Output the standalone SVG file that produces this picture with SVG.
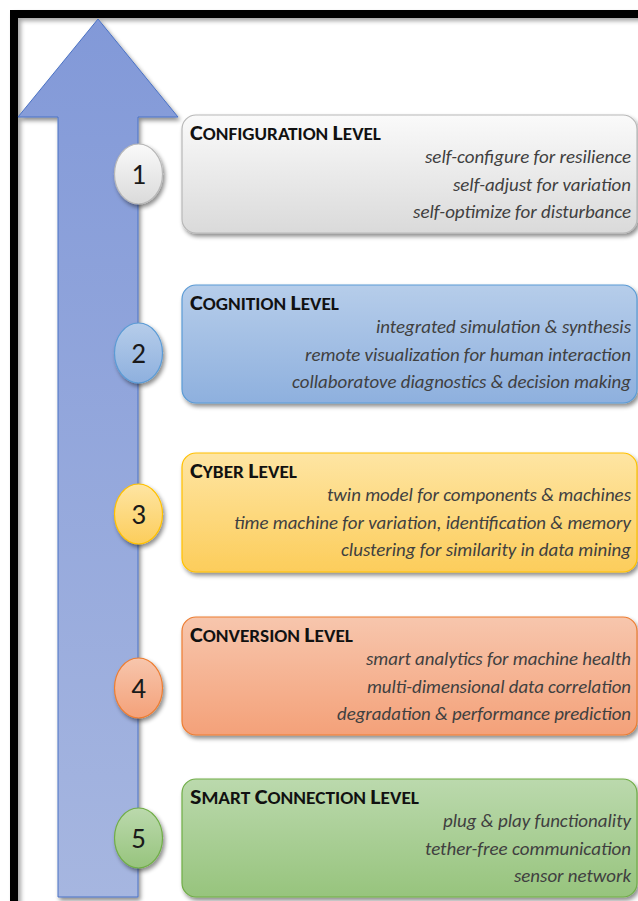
<svg xmlns="http://www.w3.org/2000/svg" width="638" height="901" viewBox="0 0 638 901">
<defs>
<style>
.title{font-family:Carlito,"Open Sans","Liberation Sans",sans-serif;font-weight:bold;font-size:17.5px;fill:#111}
.big{font-size:22px}
.item{font-family:Carlito,"Open Sans","Liberation Sans",sans-serif;font-style:italic;font-size:18px;fill:#404040;text-anchor:end}
.num{font-family:Carlito,"Open Sans","Liberation Sans",sans-serif;font-size:29px;fill:#1a1a1a;text-anchor:middle}
.box{filter:url(#sh);stroke-width:1.2}
</style>
<filter id="sh" x="-10%" y="-10%" width="125%" height="130%">
<feDropShadow dx="2" dy="3" stdDeviation="2.2" flood-color="#000" flood-opacity="0.45"/>
</filter>
<filter id="fsh" x="-50%" y="-5%" width="300%" height="110%">
<feDropShadow dx="3" dy="3" stdDeviation="2" flood-color="#000" flood-opacity="0.35"/>
</filter>
<linearGradient id="gArrow" x1="0" y1="0" x2="0" y2="1"><stop offset="0" stop-color="#8299d8"/><stop offset="1" stop-color="#a6b6e0"/></linearGradient>
<linearGradient id="g1" x1="0" y1="0" x2="0" y2="1"><stop offset="0" stop-color="#fafafa"/><stop offset="1" stop-color="#dadada"/></linearGradient>
<linearGradient id="g2" x1="0" y1="0" x2="0" y2="1"><stop offset="0" stop-color="#b6cdea"/><stop offset="1" stop-color="#8eb0de"/></linearGradient>
<linearGradient id="g3" x1="0" y1="0" x2="0" y2="1"><stop offset="0" stop-color="#fee5a3"/><stop offset="1" stop-color="#fccd5b"/></linearGradient>
<linearGradient id="g4" x1="0" y1="0" x2="0" y2="1"><stop offset="0" stop-color="#f7c6ad"/><stop offset="1" stop-color="#f4a179"/></linearGradient>
<linearGradient id="g5" x1="0" y1="0" x2="0" y2="1"><stop offset="0" stop-color="#bbd9ad"/><stop offset="1" stop-color="#97c47d"/></linearGradient>
</defs>
<rect width="638" height="901" fill="#ffffff"/>
<g id="frame" filter="url(#fsh)">
<rect x="10" y="10" width="640" height="8" fill="#000"/>
<rect x="10" y="10" width="8" height="900" fill="#000"/>
</g>
<g id="arrow">
<path d="M98 19 L178 117 L138 117 L138 897 L58 897 L58 117 L18 117 Z" fill="url(#gArrow)" stroke="#4a72c4" stroke-width="1" filter="url(#sh)"/>
</g>
<g id="connectors"></g>
<g id="level1">
<rect class="box" x="182" y="115" width="455" height="118" rx="14" fill="url(#g1)" stroke="#b8b8b8"/>
<text class="title" x="190" y="140" textLength="191" lengthAdjust="spacingAndGlyphs"><tspan class="big">C</tspan>ONFIGURATION <tspan class="big">L</tspan>EVEL</text>
<text class="item" x="631" y="163" textLength="206" lengthAdjust="spacingAndGlyphs">self-configure for resilience</text>
<text class="item" x="631" y="191" textLength="178" lengthAdjust="spacingAndGlyphs">self-adjust for variation</text>
<text class="item" x="631" y="218" textLength="218" lengthAdjust="spacingAndGlyphs">self-optimize for disturbance</text>
<ellipse class="box" cx="138.5" cy="174" rx="24" ry="30" fill="url(#g1)" stroke="#b8b8b8"/>
<text class="num" x="138.5" y="184">1</text>
</g>
<g id="level2">
<rect class="box" x="182" y="285" width="455" height="118" rx="14" fill="url(#g2)" stroke="#5b9bd5"/>
<text class="title" x="190" y="310" textLength="149" lengthAdjust="spacingAndGlyphs"><tspan class="big">C</tspan>OGNITION <tspan class="big">L</tspan>EVEL</text>
<text class="item" x="631" y="333" textLength="255" lengthAdjust="spacingAndGlyphs">integrated simulation &amp; synthesis</text>
<text class="item" x="631" y="361" textLength="326" lengthAdjust="spacingAndGlyphs">remote visualization for human interaction</text>
<text class="item" x="631" y="388" textLength="339" lengthAdjust="spacingAndGlyphs">collaboratove diagnostics &amp; decision making</text>
<ellipse class="box" cx="138.5" cy="353" rx="24" ry="30" fill="url(#g2)" stroke="#5b9bd5"/>
<text class="num" x="138.5" y="363">2</text>
</g>
<g id="level3">
<rect class="box" x="182" y="453" width="455" height="119" rx="14" fill="url(#g3)" stroke="#ffc000"/>
<text class="title" x="190" y="478" textLength="107" lengthAdjust="spacingAndGlyphs"><tspan class="big">C</tspan>YBER <tspan class="big">L</tspan>EVEL</text>
<text class="item" x="631" y="501" textLength="304" lengthAdjust="spacingAndGlyphs">twin model for components &amp; machines</text>
<text class="item" x="631" y="529" textLength="397" lengthAdjust="spacingAndGlyphs">time machine for variation, identification &amp; memory</text>
<text class="item" x="631" y="556" textLength="290" lengthAdjust="spacingAndGlyphs">clustering for similarity in data mining</text>
<ellipse class="box" cx="138.5" cy="514" rx="24" ry="30" fill="url(#g3)" stroke="#ffc000"/>
<text class="num" x="138.5" y="524">3</text>
</g>
<g id="level4">
<rect class="box" x="182" y="617" width="455" height="118" rx="14" fill="url(#g4)" stroke="#ed7d31"/>
<text class="title" x="190" y="642" textLength="163" lengthAdjust="spacingAndGlyphs"><tspan class="big">C</tspan>ONVERSION <tspan class="big">L</tspan>EVEL</text>
<text class="item" x="631" y="665" textLength="265" lengthAdjust="spacingAndGlyphs">smart analytics for machine health</text>
<text class="item" x="631" y="693" textLength="264" lengthAdjust="spacingAndGlyphs">multi-dimensional data correlation</text>
<text class="item" x="631" y="720" textLength="294" lengthAdjust="spacingAndGlyphs">degradation &amp; performance prediction</text>
<ellipse class="box" cx="138.5" cy="688" rx="24" ry="30" fill="url(#g4)" stroke="#ed7d31"/>
<text class="num" x="138.5" y="698">4</text>
</g>
<g id="level5">
<rect class="box" x="182" y="779" width="455" height="118" rx="14" fill="url(#g5)" stroke="#70ad47"/>
<text class="title" x="190" y="804" textLength="229" lengthAdjust="spacingAndGlyphs"><tspan class="big">S</tspan>MART <tspan class="big">C</tspan>ONNECTION <tspan class="big">L</tspan>EVEL</text>
<text class="item" x="631" y="827" textLength="188" lengthAdjust="spacingAndGlyphs">plug &amp; play functionality</text>
<text class="item" x="631" y="855" textLength="206" lengthAdjust="spacingAndGlyphs">tether-free communication</text>
<text class="item" x="631" y="882" textLength="117" lengthAdjust="spacingAndGlyphs">sensor network</text>
<ellipse class="box" cx="138.5" cy="838" rx="24" ry="30" fill="url(#g5)" stroke="#70ad47"/>
<text class="num" x="138.5" y="848">5</text>
</g>
</svg>
